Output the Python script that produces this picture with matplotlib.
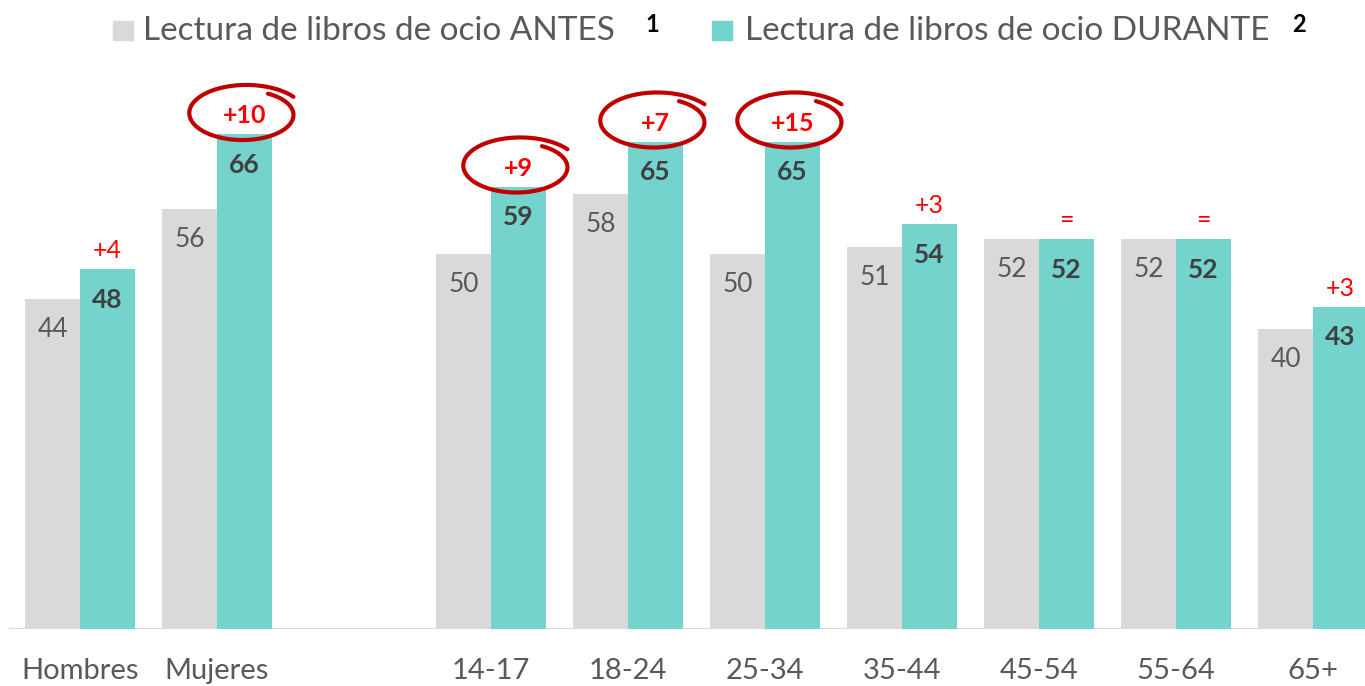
import numpy as np
import matplotlib
matplotlib.use("Agg")
import matplotlib.pyplot as plt
from matplotlib.transforms import ScaledTranslation
from matplotlib.patches import Rectangle

plt.rcParams['font.family'] = ['Lato', 'DejaVu Sans']

# Datos
categorias = ["Hombres", "Mujeres", "", "14-17", "18-24", "25-34", "35-44", "45-54", "55-64", "65+"]
antes = [44, 56, None, 50, 58, 50, 51, 52, 52, 40]
durante = [48, 66, None, 59, 65, 65, 54, 52, 52, 43]
diferencia = ["+4", "+10", "", "+9", "+7", "+15", "+3", "=", "=", "+3"]
destacado = [False, True, False, True, True, True, False, False, False, False]

gris = "#D9D9D9"
turquesa = "#75D3CE"
rojo = "#FF0000"
rojo_oscuro = "#C00000"

fig = plt.figure(figsize=(13.65, 6.86), dpi=100)
ax = fig.add_axes([0, 57 / 686, 1, 569 / 686])

x = np.arange(len(categorias))
w = 0.40
for i in x:
    if antes[i] is None:
        continue
    ax.bar(i - w / 2, antes[i], w, color=gris, zorder=2)
    ax.bar(i + w / 2, durante[i], w, color=turquesa, zorder=2)
    ax.annotate(str(antes[i]), (i - w / 2, antes[i]), xytext=(0, -22), textcoords="offset points",
                ha="center", va="center", fontsize=19, color="#595959")
    ax.annotate(str(durante[i]), (i + w / 2, durante[i]), xytext=(0, -22), textcoords="offset points",
                ha="center", va="center", fontsize=19, color="#404040", fontweight="bold")
    ax.annotate(diferencia[i], (i + w / 2, durante[i]), xytext=(0, 13), textcoords="offset points",
                ha="center", va="center", fontsize=18, color=rojo,
                fontweight="bold" if destacado[i] else "normal")
    if destacado[i]:
        # trazo a mano alrededor de la diferencia
        t = np.linspace(np.radians(60), np.radians(60 - 385), 200)
        r = np.linspace(0.84, 1.07, 200)
        ex = 0.56 * r * np.cos(t)
        ey = 0.20 + 0.28 * r * np.sin(t)
        tr = fig.dpi_scale_trans + ScaledTranslation(i + w / 2, durante[i], ax.transData)
        ax.plot(ex, ey, transform=tr, color=rojo_oscuro, lw=3.0, solid_capstyle="round",
                zorder=5, clip_on=False)

ax.axhline(0, xmin=10 / 1365, xmax=1, color="#D9D9D9", lw=1.5, zorder=1)
ax.set_xlim(-80 / 137, 1285 / 137)
ax.set_ylim(0, 569 / 7.5)
ax.set_xticks([i for i in x if categorias[i]])
ax.set_xticklabels([c for c in categorias if c], fontsize=21, color="#595959")
ax.tick_params(axis="x", length=0, pad=21)
ax.set_yticks([])
for s in ax.spines.values():
    s.set_visible(False)

# Leyenda
fig.patches.append(Rectangle((113 / 1365, 1 - 40 / 686), 20 / 1365, 19 / 686,
                             transform=fig.transFigure, color=gris))
fig.text(143 / 1365, 1 - 31 / 686, "Lectura de libros de ocio ANTES", fontsize=24,
         color="#595959", va="center")
fig.text(645 / 1365, 1 - 24 / 686, "1", fontsize=17, fontweight="bold", color="black", va="center")
fig.patches.append(Rectangle((712 / 1365, 1 - 40 / 686), 20 / 1365, 19 / 686,
                             transform=fig.transFigure, color=turquesa))
fig.text(745 / 1365, 1 - 31 / 686, "Lectura de libros de ocio DURANTE", fontsize=24,
         color="#595959", va="center")
fig.text(1292 / 1365, 1 - 24 / 686, "2", fontsize=17, fontweight="bold", color="black", va="center")

fig.savefig("out.png", dpi=100)
